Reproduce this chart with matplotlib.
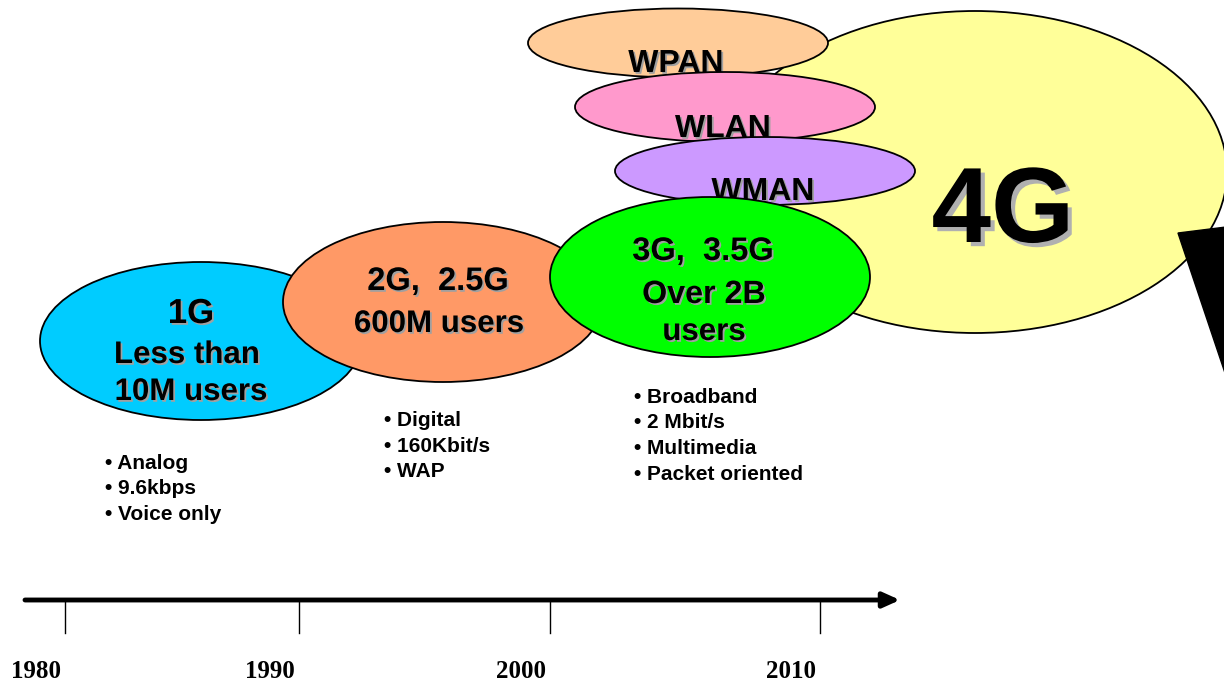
import matplotlib
matplotlib.use("Agg")
import matplotlib.pyplot as plt
import matplotlib.patheffects as pe
from matplotlib.patches import Ellipse, Polygon

plt.rcParams["font.family"] = ["Liberation Sans", "DejaVu Sans"]

W, H = 1224, 683

# generation bubbles: centre x, centre y, width, height (pixel space)
gen_names = ["4G", "WPAN", "WLAN", "WMAN", "1G", "2G", "3G"]
gen_cx = [975, 678, 725, 765, 201, 443, 710]
gen_cy = [172, 43, 107, 171, 341, 302, 277]
gen_w = [504, 300, 300, 300, 322, 320, 320]
gen_h = [322, 69, 70, 68, 158, 160, 160]
gen_colors = ["#ffff99", "#ffcc99", "#ff99cc", "#cc99ff", "#00ccff", "#ff9966", "#00ff00"]

# labels inside bubbles: text, x centre, baseline y, size, zorder
bubble_text = ["WPAN", "WLAN", "WMAN",
               "1G", "Less than", "10M users",
               "2G,  2.5G", "600M users",
               "3G,  3.5G", "Over 2B", "users"]
bubble_x = [676, 723, 763, 191, 187, 191, 438, 439, 703, 704, 704]
bubble_base = [72, 137, 200, 323, 363, 400, 290, 332, 260, 303, 340]
bubble_size = [23, 23, 23, 25, 22.5, 22.5, 23.5, 22.5, 23.5, 23.2, 22.5]
bubble_z = [2, 3, 4, 6, 6, 6, 7, 7, 8, 8, 8]

# feature bullets
bullets_1g = ["• Analog", "• 9.6kbps", "• Voice only"]
bullets_2g = ["• Digital", "• 160Kbit/s", "• WAP"]
bullets_3g = ["• Broadband", "• 2 Mbit/s", "• Multimedia", "• Packet oriented"]

# timeline
years = ["1980", "1990", "2000", "2010"]
year_x = [65, 299, 550, 820]

fig = plt.figure(figsize=(W / 100, H / 100), dpi=100)
ax = fig.add_axes([0, 0, 1, 1])
ax.set_xlim(0, W)
ax.set_ylim(H, 0)
ax.axis("off")

zorders = [1, 2, 3, 4, 5, 6, 7]
for i in range(len(gen_names)):
    ax.add_patch(Ellipse((gen_cx[i], gen_cy[i]), gen_w[i], gen_h[i],
                         facecolor=gen_colors[i], edgecolor="black", lw=1.3,
                         zorder=zorders[i]))

shadow = [pe.SimplePatchShadow(offset=(1.3, -1.3), shadow_rgbFace="#a0a0a0", alpha=1),
          pe.Normal()]
for txt, x, y, fs, z in zip(bubble_text, bubble_x, bubble_base, bubble_size, bubble_z):
    ax.text(x, y, txt, fontsize=fs, fontweight="bold", ha="center", va="baseline",
            zorder=z + 0.5, path_effects=shadow)

ax.text(1003, 242, "4G", fontsize=77, fontweight="bold", ha="center", va="baseline",
        zorder=1.5,
        path_effects=[pe.SimplePatchShadow(offset=(3, -3), shadow_rgbFace="#b0b0b0", alpha=1),
                      pe.Normal()])

# black wedge at right edge
ax.add_patch(Polygon([(1178, 233), (1226, 227), (1226, 376)], closed=True,
                     facecolor="black", edgecolor="black", zorder=9))

for lines, x0, y0 in [(bullets_1g, 105, 469), (bullets_2g, 384, 426), (bullets_3g, 634, 403)]:
    for k, s in enumerate(lines):
        ax.text(x0, y0 + k * 25.5, s, fontsize=15, fontweight="bold",
                ha="left", va="baseline")

ax.annotate("", xy=(900, 600), xytext=(25, 600),
            arrowprops=dict(arrowstyle="-|>,head_length=1.0,head_width=0.45",
                            lw=3.5, color="black", shrinkA=0, shrinkB=0))
for yr, x in zip(years, year_x):
    ax.plot([x, x], [600, 633], color="black", lw=1)
    ax.text(x - 4, 678, yr, fontsize=18, fontweight="bold", ha="right", va="baseline",
            family=["Liberation Serif", "DejaVu Serif"])

fig.savefig("out.png", dpi=100)
